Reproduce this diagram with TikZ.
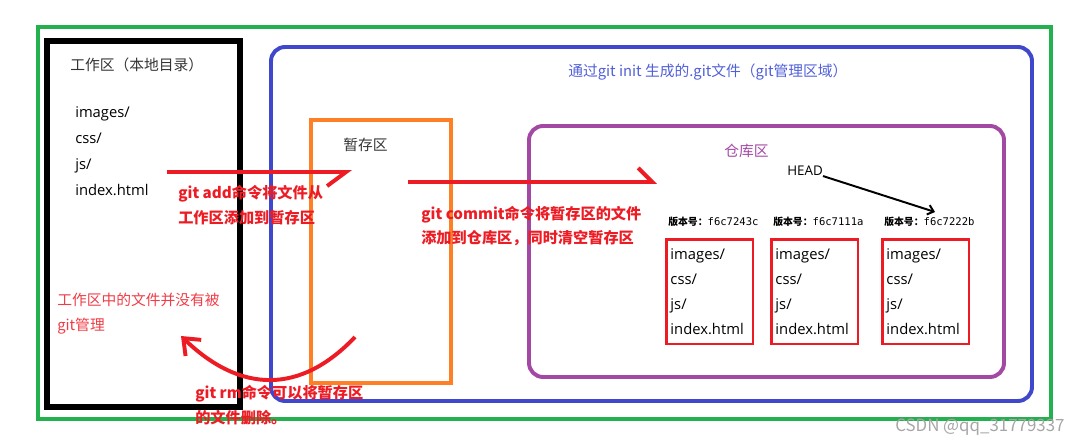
\documentclass[tikz,border=0pt]{standalone}
\usepackage{fontspec}
\usepackage{xcolor}
\setmainfont{Noto Sans CJK SC}
\newfontfamily\latinfont{Open Sans}
\newfontfamily\hexfont{DejaVu Sans Mono}
\usetikzlibrary{arrows.meta,calc}

\definecolor{areagreen}{HTML}{22B14C}
\definecolor{areablue}{HTML}{3F48CC}
\definecolor{titleblue}{HTML}{5060D8}
\definecolor{stageorange}{HTML}{FF7F27}
\definecolor{repopurple}{HTML}{A349A4}
\definecolor{cmdred}{HTML}{ED1C24}
\definecolor{notered}{HTML}{F03C46}
\definecolor{darktext}{HTML}{333333}

\begin{document}
\begin{tikzpicture}[x=0.025cm, y=-0.025cm,
    area/.style={line width=2.8pt},
    caption/.style={anchor=west, inner sep=0pt, text=darktext, font=\fontsize{10.5}{13}\selectfont},
    filelist/.style={anchor=west, inner sep=0pt, align=left, font=\latinfont\fontsize{10.5}{18.4}\selectfont},
    filebox/.style={draw=cmdred, line width=1.8pt, anchor=north west, align=left, inner xsep=3pt, text width=55.7pt, minimum height=74.4pt, font=\latinfont\fontsize{10.5}{17.7}\selectfont},
    version/.style={anchor=west, inner sep=0pt, font=\bfseries\fontsize{7}{8}\selectfont},
    cmd/.style={anchor=west, inner sep=0pt, align=left, text=cmdred, font=\bfseries\fontsize{10.8}{17.7}\selectfont},
    redarrow/.style={cmdred, line width=2.8pt},
]
\useasboundingbox (0,0) rectangle (1080,444);

% Areas
\draw[area, areagreen] (38,27) rectangle (1051,419);
\draw[area, line width=4pt] (47,41) rectangle (240,407);
\draw[area, areablue, rounded corners=10pt] (271,47) rectangle (1032,401);
\draw[area, stageorange] (311,120) rectangle (451,383);
\draw[area, repopurple, rounded corners=10pt] (529,126) rectangle (1004,377);

% Working area
\node[caption] (work) at (70,65) {工作区（本地目录）};
\node[filelist] (workfiles) at (75,151) {images/\\css/\\js/\\index.html};
\node[caption, align=left, text=notered, font=\fontsize{10.5}{17.7}\selectfont] (untracked) at (57,313.5) {工作区中的文件并没有被\\git管理};

% Git area
\node[caption, text=titleblue] (gitdir) at (568,72) {通过git init 生成的.git文件（git管理区域）};
\node[caption] (stage) at (343,145) {暂存区};
\node[caption, text=repopurple] (repo) at (724,151) {仓库区};
\node[caption, text=black, font=\latinfont\fontsize{9.5}{11}\selectfont] (head) at (787,171) {HEAD};

% Versions
\node[version] (ver1) at (668,222) {版本号：{\hexfont\mdseries\fontsize{7.5}{8}\selectfont f6c7243c}};
\node[version] (ver2) at (773,222) {版本号：{\hexfont\mdseries\fontsize{7.5}{8}\selectfont f6c7111a}};
\node[version] (ver3) at (884,222) {版本号：{\hexfont\mdseries\fontsize{7.5}{8}\selectfont f6c7222b}};
\node[filebox] (box1) at (665,238) {images/\\css/\\js/\\index.html};
\node[filebox] (box2) at (770,238) {images/\\css/\\js/\\index.html};
\node[filebox] (box3) at (881,238) {images/\\css/\\js/\\index.html};

% Commands
\node[cmd] (addtxt) at (178,205.5) {git add命令将文件从\\工作区添加到暂存区};
\node[cmd] (committxt) at (421,226) {git commit命令将暂存区的文件\\添加到仓库区，同时清空暂存区};
\node[cmd] (rmtxt) at (195,405.5) {git rm命令可以将暂存区\\的文件删除。};

% Arrows
\coordinate (addfrom) at (167,172);
\coordinate (addto) at (352,172);
\draw[redarrow, -{Straight Barb[harpoon, swap, length=13.5pt, width=20pt]}] (addfrom) -- (addto);
\coordinate (commitfrom) at (408,182);
\coordinate (committo) at (657,182);
\draw[redarrow, -{Straight Barb[harpoon, length=10pt, width=20pt]}] (commitfrom) -- (committo);
\coordinate (rmfrom) at (355,337);
\coordinate (rmto) at (181,336);
\draw[redarrow, -{Straight Barb[length=10pt, width=16pt]}] (rmfrom) .. controls (300,395) and (240,393) .. (rmto);
\coordinate (headto) at (935,212);
\draw[line width=1.4pt, -{Straight Barb[length=4pt, width=7pt]}] (head.south east) -- (headto);

\node[anchor=west, inner sep=0pt, text=gray!70, font=\fontsize{12}{13}\selectfont] (csdn) at (895,427) {CSDN @qq\_31779337};
\end{tikzpicture}
\end{document}
